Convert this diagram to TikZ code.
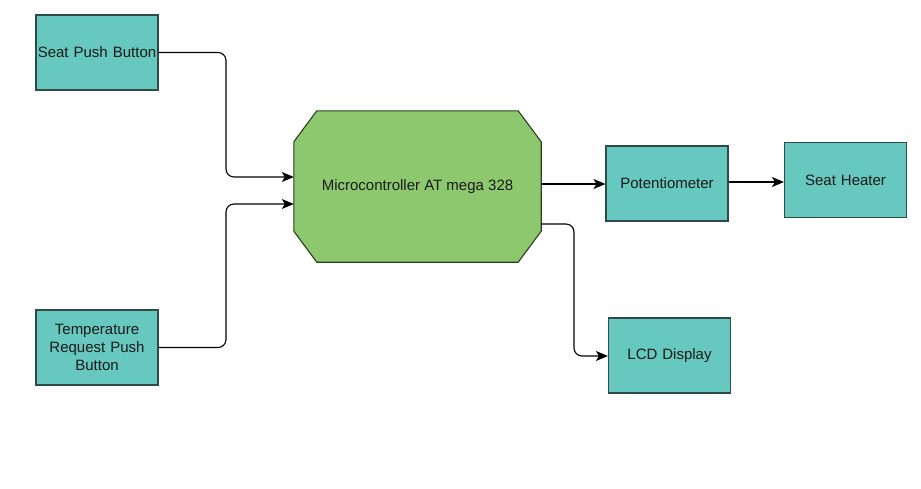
\documentclass[tikz,border=0pt]{standalone}
\usepackage{fontspec}
\setmainfont{Liberation Sans}
\usetikzlibrary{arrows.meta}
\definecolor{tealfill}{HTML}{66C8BE}
\definecolor{tealdraw}{HTML}{2F4A4A}
\definecolor{greenfill}{HTML}{8DC86E}
\definecolor{greendraw}{HTML}{2A3F1E}
\definecolor{txt}{HTML}{1A1A1A}
\tikzset{
  x=1pt, y=-1pt,
  block/.style={draw=tealdraw, fill=tealfill, line width=1.1pt, minimum width=122pt, minimum height=75pt, inner sep=0.5pt, align=center, text width=121pt, font=\fontsize{15}{18}\selectfont, text=txt},
  mcustyle/.style={minimum width=247pt, minimum height=151pt, inner sep=0pt, font=\fontsize{15}{18}\selectfont, text=txt},
  octo/.style={draw=greendraw, fill=greenfill, line width=1.1pt},
  arr/.style={draw=black, line width=1.1pt, -{Stealth[length=12pt,width=10pt,inset=3pt]}, rounded corners=8pt}
}
\begin{document}
\begin{tikzpicture}
\useasboundingbox (0,0) rectangle (921,488);
\node[block] (spb) at (97,52.5) {Seat Push Button};
\node[block] (trb) at (97,347.5) {Temperature\\Request Push\\Button};
\node[mcustyle] (mcu) at (417.5,186.5) {};
\path[octo] ([xshift=23pt]mcu.north west) -- ([xshift=-23pt]mcu.north east)
  -- ([yshift=-31pt]mcu.north east) -- ([yshift=31pt]mcu.south east)
  -- ([xshift=-23pt]mcu.south east) -- ([xshift=23pt]mcu.south west)
  -- ([yshift=31pt]mcu.south west) -- ([yshift=-31pt]mcu.north west) -- cycle;
\node[mcustyle] at (mcu.center) {Microcontroller AT mega 328};
\node[block] (pot) at (667,183.5) {Potentiometer};
\node[block] (sh) at (845.5,180) {Seat Heater};
\node[block] (lcd) at (669.5,355.5) {LCD Display};
\draw[arr] (spb.east) -- (226,52.5) -- (226,177) -- (mcu.west |- {(0,177)});
\draw[arr] (trb.east) -- (226,347.5) -- (226,204) -- (mcu.west |- {(0,204)});
\draw[arr] (mcu.east |- {(0,184)}) -- (pot.west |- {(0,184)});
\draw[arr] (pot.east |- {(0,182)}) -- (sh.west |- {(0,182)});
\draw[arr] (mcu.east |- {(0,224)}) -- (574,224) -- (574,356) -- (lcd.west |- {(0,356)});
\end{tikzpicture}
\end{document}
